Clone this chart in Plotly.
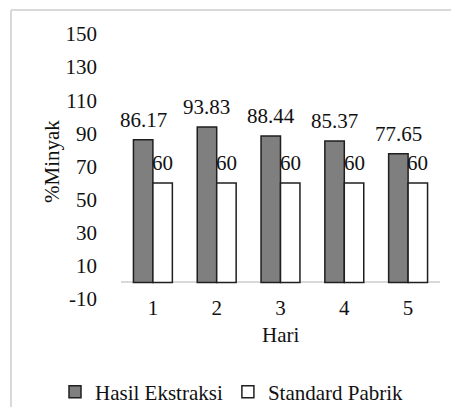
import plotly.graph_objects as go

categories = ["1", "2", "3", "4", "5"]
hasil_ekstraksi = [86.17, 93.83, 88.44, 85.37, 77.65]
standard_pabrik = [60, 60, 60, 60, 60]
y_ticks = [-10, 10, 30, 50, 70, 90, 110, 130, 150]

FONT = "Liberation Serif"
TXT = "#111111"
FS = 21

# page body has an 8px margin: figure is placed at (8, 8)
OFF = 8
W, H = 459 - 2 * OFF, 415 - 2 * OFF
PLOT_L, PLOT_R, PLOT_T, PLOT_B = 121, 440, 34, 299   # target page pixels
L, R = PLOT_L - OFF, W - (PLOT_R - OFF)
T, B = PLOT_T - OFF, H - (PLOT_B - OFF)
pw = W - L - R
ph = H - T - B
BARGAP = 0.39

def px_x(x):
    return (x - OFF - L) / pw

def px_y(y):
    return (H - B - (y - OFF)) / ph

fig = go.Figure()
fig.add_trace(go.Bar(
    x=categories, y=hasil_ekstraksi, name="Hasil Ekstraksi",
    marker=dict(color="#7f7f7f", line=dict(color="#1f1f1f", width=1.5)),
))
fig.add_trace(go.Bar(
    x=categories, y=standard_pabrik, name="Standard Pabrik",
    marker=dict(color="#ffffff", line=dict(color="#1f1f1f", width=1.5)),
))

# data labels placed above each bar (x given as category index)
bar_w = pw / len(categories) * (1 - BARGAP) / 2
annotations = []
for series, sign, fmt in ((hasil_ekstraksi, -1, "{:.2f}"), (standard_pabrik, 1, "{:g}")):
    for i, v in enumerate(series):
        annotations.append(dict(
            x=i, y=v, xref="x", yref="y", text=fmt.format(v), showarrow=False,
            xanchor="center", yanchor="middle", xshift=sign * bar_w / 2, yshift=20,
            font=dict(family=FONT, size=FS, color=TXT),
        ))

annotations += [
    dict(text="%Minyak", xref="paper", yref="paper",
         x=px_x(52), y=px_y(162), textangle=-90, showarrow=False,
         xanchor="center", yanchor="middle",
         font=dict(family=FONT, size=FS, color=TXT)),
    dict(text="Hari", xref="paper", yref="paper",
         x=px_x(280), y=px_y(335), showarrow=False,
         xanchor="center", yanchor="middle",
         font=dict(family=FONT, size=FS, color=TXT)),
]

fig.update_layout(
    width=W, height=H,
    margin=dict(l=L, r=R, t=T, b=B, pad=0, autoexpand=False),
    paper_bgcolor="white", plot_bgcolor="white",
    barmode="group", bargap=BARGAP, bargroupgap=0,
    font=dict(family=FONT, size=FS, color=TXT),
    showlegend=True,
    legend=dict(
        orientation="h", x=px_x(55), xanchor="left",
        y=px_y(392), yanchor="middle",
        font=dict(family=FONT, size=FS, color=TXT),
        bgcolor="rgba(0,0,0,0)", tracegroupgap=0,
    ),
    xaxis=dict(
        type="category", range=[-0.5, len(categories) - 0.5],
        showgrid=False, showline=False, zeroline=False,
        ticks="", tickfont=dict(family=FONT, size=FS, color=TXT),
        anchor="free", position=px_y(293), automargin=False,
    ),
    yaxis=dict(
        range=[-10, 150], tickvals=y_ticks, ticktext=[str(v) for v in y_ticks],
        showgrid=False, showline=False, zeroline=True,
        zerolinecolor="#d9d9d9", zerolinewidth=1.5,
        ticks="", ticklabelstandoff=23, automargin=False,
        tickfont=dict(family=FONT, size=FS, color=TXT),
    ),
    shapes=[
        dict(type="line", xref="paper", yref="paper",
             x0=px_x(11), x1=px_x(451), y0=px_y(10), y1=px_y(10),
             line=dict(color="#d9d9d9", width=2), layer="below"),
        dict(type="line", xref="paper", yref="paper",
             x0=px_x(11), x1=px_x(11), y0=px_y(10), y1=px_y(407),
             line=dict(color="#d9d9d9", width=2), layer="below"),
    ],
    annotations=annotations,
)

fig.write_html("out.html", config={"displayModeBar": False})
